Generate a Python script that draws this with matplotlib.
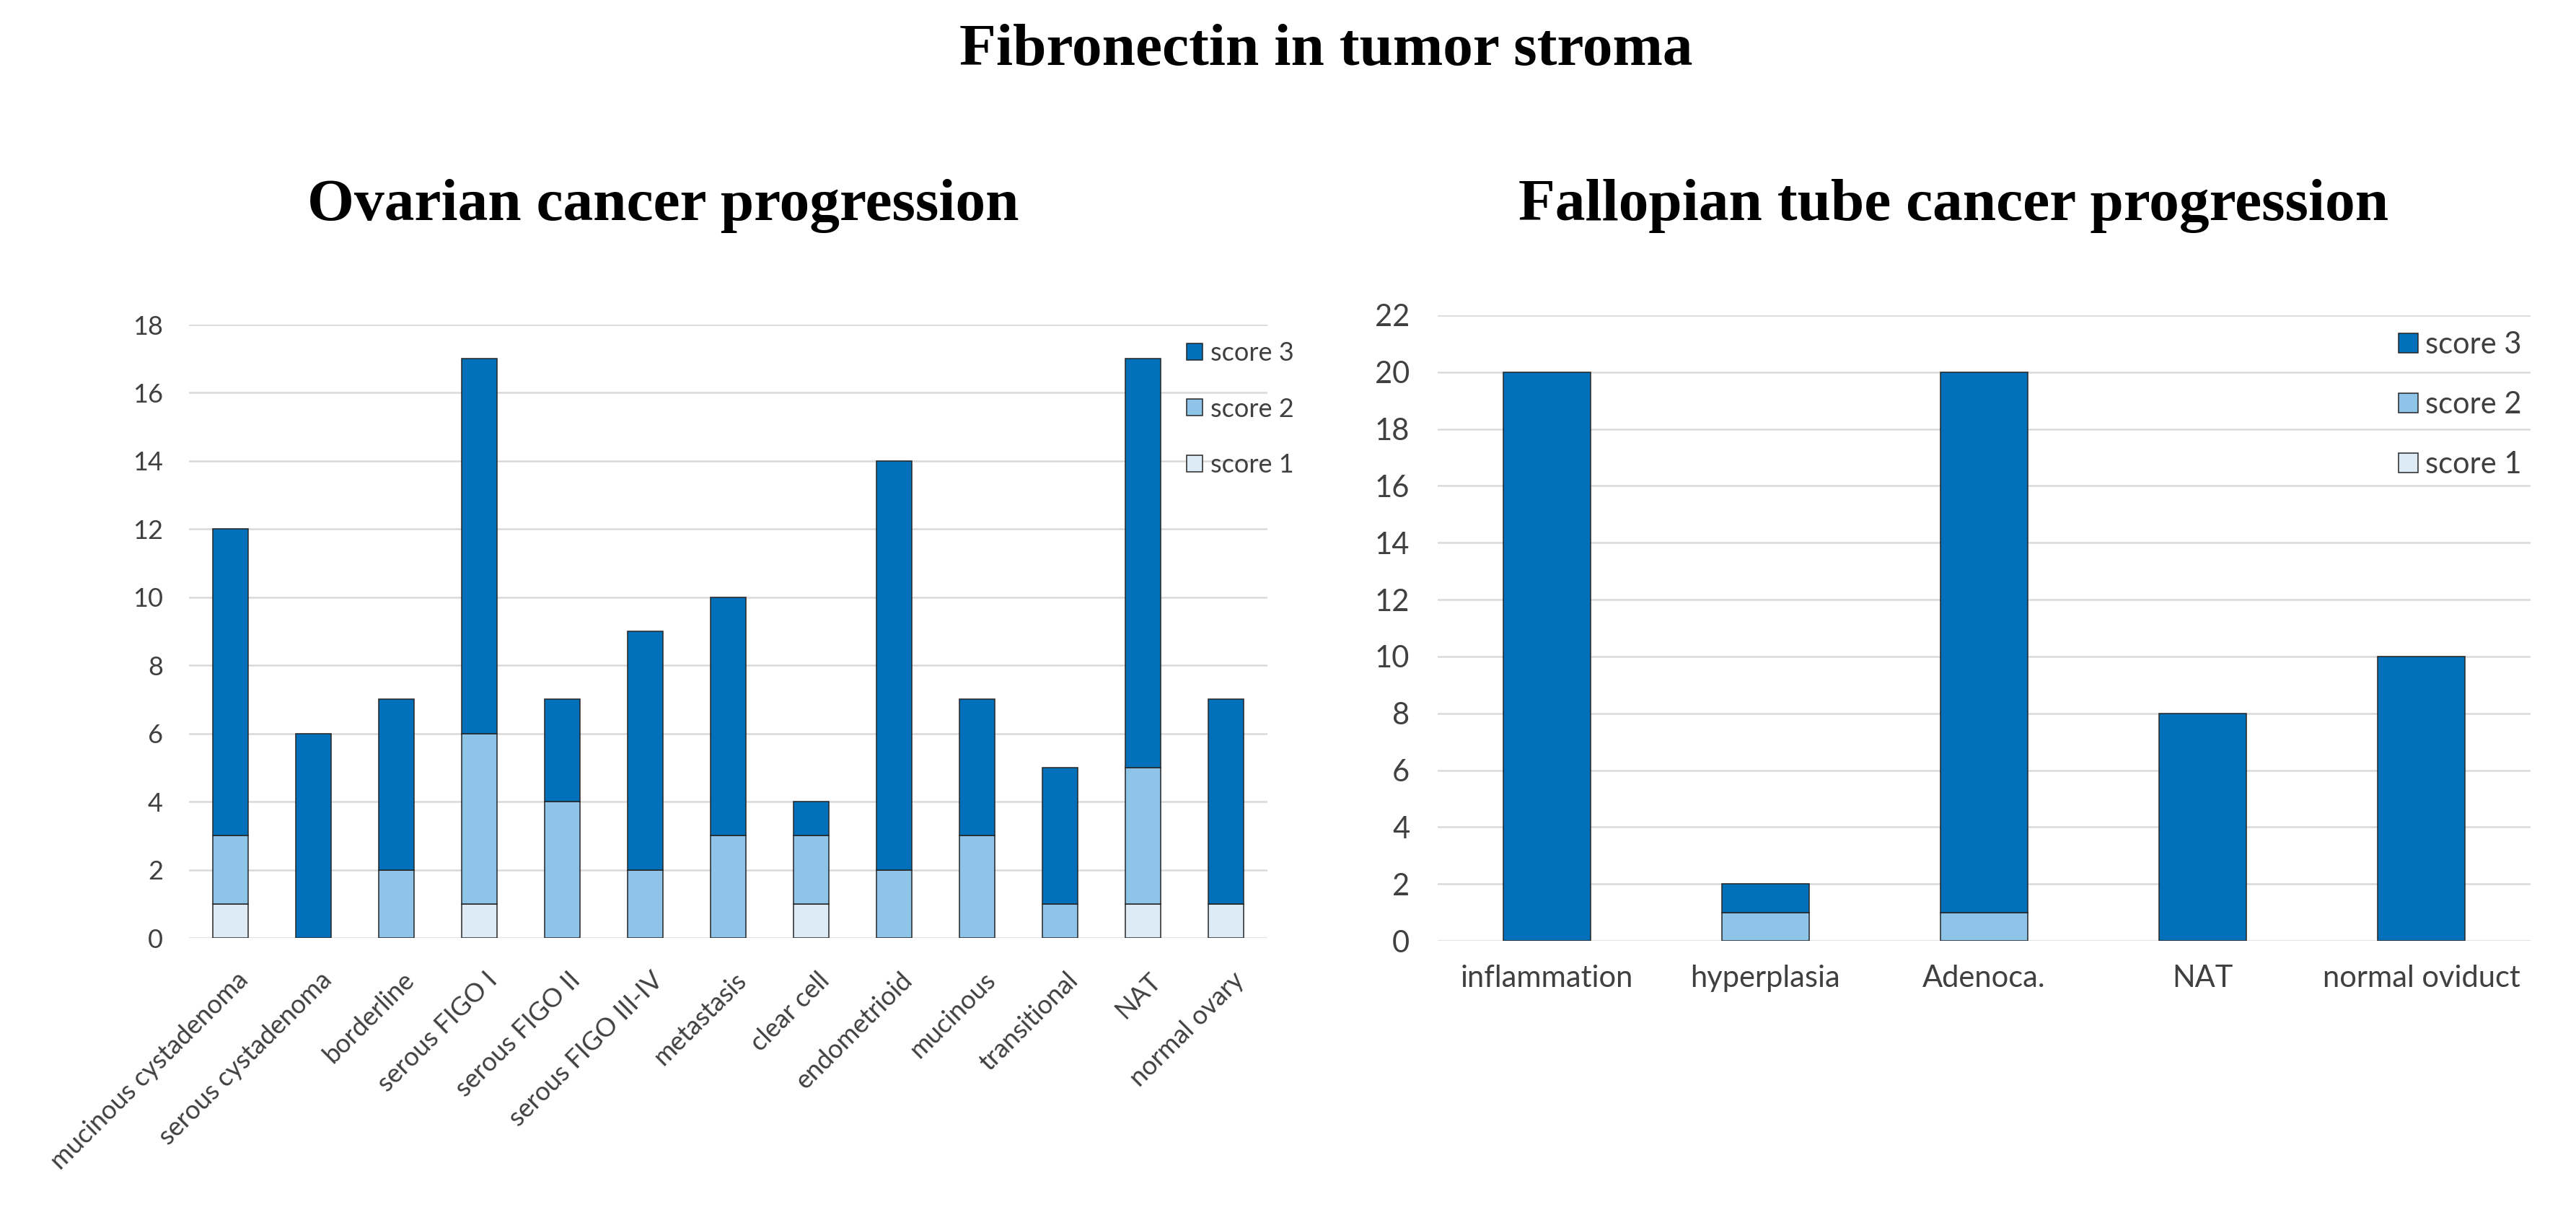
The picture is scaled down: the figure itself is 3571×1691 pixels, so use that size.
import matplotlib
matplotlib.use("Agg")
import matplotlib.pyplot as plt
import numpy as np

# ---------------- data ----------------
ovarian_categories = ["mucinous cystadenoma", "serous cystadenoma", "borderline",
                      "serous FIGO I", "serous FIGO II", "serous FIGO III-IV",
                      "metastasis", "clear cell", "endometrioid", "mucinous",
                      "transitional", "NAT", "normal ovary"]
ovarian_score1 = [1, 0, 0, 1, 0, 0, 0, 1, 0, 0, 0, 1, 1]
ovarian_score2 = [2, 0, 2, 5, 4, 2, 3, 2, 2, 3, 1, 4, 0]
ovarian_score3 = [9, 6, 5, 11, 3, 7, 7, 1, 12, 4, 4, 12, 6]
ovarian_yticks = [0, 2, 4, 6, 8, 10, 12, 14, 16, 18]

tube_categories = ["inflammation", "hyperplasia", "Adenoca.", "NAT", "normal oviduct"]
tube_score1 = [0, 0, 0, 0, 0]
tube_score2 = [0, 1, 1, 0, 0]
tube_score3 = [20, 1, 19, 8, 10]
tube_yticks = [0, 2, 4, 6, 8, 10, 12, 14, 16, 18, 20, 22]

series_labels = ["score 1", "score 2", "score 3"]
series_colors = ["#DDEBF7", "#8EC4E8", "#0070BA"]

suptitle = "Fibronectin in tumor stroma"
left_title = "Ovarian cancer progression"
right_title = "Fallopian tube cancer progression"

# ---------------- style ----------------
W, H = 3571, 1691
fig = plt.figure(figsize=(W / 100, H / 100), dpi=100)
plt.rcParams['font.family'] = ['Lato', 'DejaVu Sans']
TXT = "#404040"
GRID = "#D9D9D9"
EDGE = "#262626"


def fx(px):
    return px / W


def fy(py):
    return 1 - py / H


def draw(ax, cats, s1, s2, s3, yticks, width, fs, xrot, xpad, ypad):
    x = np.arange(len(cats))
    b1 = np.array(s1, float)
    b2 = np.array(s2, float)
    b3 = np.array(s3, float)
    bars = []
    bottom = np.zeros(len(cats))
    for vals, col, lab in zip([b1, b2, b3], series_colors, series_labels):
        bc = ax.bar(x, vals, width, bottom=bottom, color=col, edgecolor=EDGE,
                    linewidth=1.1, label=lab, zorder=3)
        bars.append(bc)
        bottom = bottom + vals
    ax.set_xlim(-0.5, len(cats) - 0.5)
    ax.set_ylim(yticks[0], yticks[-1])
    ax.set_yticks(yticks)
    ax.set_yticklabels([str(t) for t in yticks], fontsize=fs, color=TXT)
    ax.set_xticks(x)
    if xrot:
        ax.set_xticklabels(cats, fontsize=fs, color=TXT, rotation=45,
                           ha='right', va='top', rotation_mode='anchor')
    else:
        ax.set_xticklabels(cats, fontsize=fs, color=TXT)
    ax.tick_params(axis='both', length=0)
    ax.tick_params(axis='x', pad=xpad)
    ax.tick_params(axis='y', pad=ypad)
    for s in ax.spines.values():
        s.set_visible(False)
    ax.yaxis.grid(True, color=GRID, linewidth=1.8, zorder=0)
    ax.set_axisbelow(True)
    return bars


# left axes
axL = fig.add_axes([fx(262), fy(1300), fx(1757) - fx(262), fy(450) - fy(1300)])
barsL = draw(axL, ovarian_categories, ovarian_score1, ovarian_score2, ovarian_score3,
             ovarian_yticks, 0.42, 26, True, 30, 26)
for lbl in axL.get_xticklabels():
    lbl.set_transform(lbl.get_transform() + matplotlib.transforms.ScaledTranslation(8 / 100, 0, fig.dpi_scale_trans))

# right axes
axR = fig.add_axes([fx(1993), fy(1304), fx(3508) - fx(1993), fy(437) - fy(1304)])
barsR = draw(axR, tube_categories, tube_score1, tube_score2, tube_score3,
             tube_yticks, 0.40, 30, False, 24, 28)

# legends (score 3 on top)
legL = axL.legend(handles=barsL[::-1], labels=series_labels[::-1], loc='center left',
                  bbox_to_anchor=(fx(1645), fy(567)), bbox_transform=fig.transFigure,
                  frameon=False, fontsize=26, handlelength=0.62, handleheight=0.62,
                  handletextpad=0.28, labelspacing=1.23, borderpad=0, borderaxespad=0)
for t in legL.get_texts():
    t.set_color(TXT)
legR = axR.legend(handles=barsR[::-1], labels=series_labels[::-1], loc='center left',
                  bbox_to_anchor=(fx(3325), fy(561)), bbox_transform=fig.transFigure,
                  frameon=False, fontsize=30, handlelength=0.65, handleheight=0.6,
                  handletextpad=0.25, labelspacing=1.08, borderpad=0, borderaxespad=0)
for t in legR.get_texts():
    t.set_color(TXT)

# titles
tfont = dict(family=['Liberation Serif', 'DejaVu Serif'], weight='bold', color='black')
fig.text(fx(1838), fy(90), suptitle, ha='center', va='baseline', fontsize=60, **tfont)
fig.text(fx(919), fy(305), left_title, ha='center', va='baseline', fontsize=60, **tfont)
fig.text(fx(2708), fy(305), right_title, ha='center', va='baseline', fontsize=60, **tfont)

fig.savefig("out.png", dpi=100, facecolor='white')
